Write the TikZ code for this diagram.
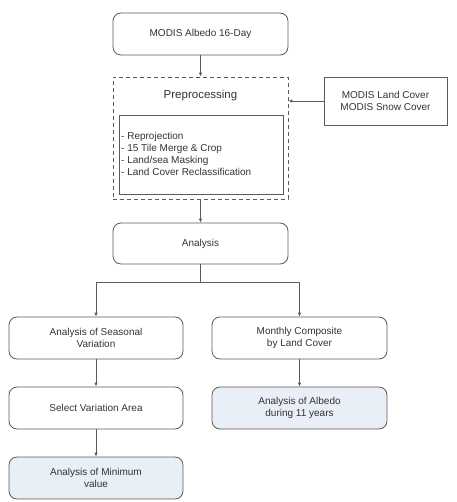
\documentclass[tikz,border=0pt]{standalone}
\usepackage{fontspec}
\setmainfont{Liberation Sans}
\usetikzlibrary{arrows.meta}
\definecolor{linec}{HTML}{5A5A5A}
\definecolor{textc}{HTML}{333333}
\definecolor{fillb}{HTML}{E9EFF6}
\tikzset{
  every node/.style={text=textc},
  rbox/.style={draw=linec, line width=0.8pt, rounded corners=8pt, minimum width=175pt, minimum height=42pt, align=center, inner sep=0pt, font=\fontsize{10}{12}\selectfont},
  sbox/.style={draw=linec, line width=0.8pt, align=center, inner sep=0pt, font=\fontsize{10}{12}\selectfont},
  conn/.style={draw=linec, line width=0.8pt, -{Latex[length=4pt,width=3.5pt]}},
  plain/.style={draw=linec, line width=0.8pt},
}
\begin{document}
\begin{tikzpicture}[x=1pt,y=-1pt]
\useasboundingbox (0,0) rectangle (456,502);
\node[rbox] (a1) at (200.5,34) {MODIS Albedo 16-Day};
\node[sbox, dash pattern=on 4pt off 3pt, minimum width=175pt, minimum height=122pt] (pre) at (200.5,138) {};
\node[font=\fontsize{11.5}{14}\selectfont, inner sep=0pt] (prel) at (200.5,96) {Preprocessing};
\node[sbox, minimum width=164pt, minimum height=79pt] (inner) at (201,154.5) {};
\node[anchor=west, align=left, inner sep=0pt, font=\fontsize{10}{12}\selectfont] (list) at (121,154) {- Reprojection\\- 15 Tile Merge \& Crop\\- Land/sea Masking\\- Land Cover Reclassification};
\node[sbox, minimum width=123pt, minimum height=48pt] (lc) at (385.5,101) {MODIS Land Cover\\MODIS Snow Cover};
\node[rbox, minimum height=41pt] (an) at (200.5,243.5) {Analysis};
\node[rbox, minimum width=174pt] (l1) at (96,338) {Analysis of Seasonal\\Variation};
\node[rbox] (r1) at (299.5,338) {Monthly Composite\\by Land Cover};
\node[rbox, minimum width=174pt] (l2) at (96,408) {Select Variation Area};
\node[rbox, fill=fillb] (r2) at (299.5,408) {Analysis of Albedo\\during 11 years};
\node[rbox, minimum width=174pt, fill=fillb] (l3) at (96,478) {Analysis of Minimum\\value};
\coordinate (br) at (200.5,282);
\draw[conn] (a1.south) -- (pre.north);
\draw[conn] (lc.west) -- (lc.west -| pre.east);
\draw[conn] (pre.south) -- (an.north);
\draw[plain] (an.south) -- (br);
\draw[conn] (br) -| (l1.north);
\draw[conn] (br) -| (r1.north);
\draw[conn] (l1.south) -- (l2.north);
\draw[conn] (r1.south) -- (r2.north);
\draw[conn] (l2.south) -- (l3.north);
\end{tikzpicture}
\end{document}
